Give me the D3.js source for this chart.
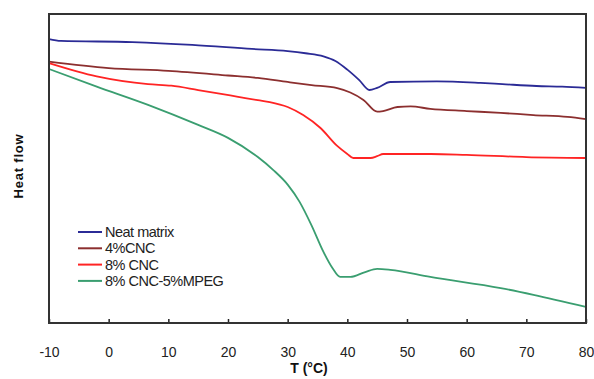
<!DOCTYPE html>
<html>
<head>
<meta charset="utf-8">
<script src="https://cdn.jsdelivr.net/npm/d3@7"></script>
<style>
  html, body { margin: 0; padding: 0; background: #fff; }
  svg { display: block; }
  text { font-family: "Liberation Sans", Arial, sans-serif; }
</style>
</head>
<body>
<svg id="chart" width="594" height="379"></svg>
<script>
// DSC heat-flow traces, temperature in °C, heat flow in arbitrary units
const neatT   = [-10, -8, 4, 14, 24, 30, 33, 36, 38, 40, 42, 43.7, 45, 47.2, 55, 62.3, 66, 71.7, 76, 80];
const neatHF  = [91.9, 91.3, 90.9, 90.0, 88.7, 88.0, 87.3, 86.3, 84.8, 82.0, 78.6, 75.4, 76.1, 78.0, 78.2, 77.7, 77.3, 76.7, 76.5, 76.1];

const cnc4T   = [-10, 0, 10, 20, 25, 30, 34, 38.3, 40.5, 42.7, 45, 46, 48.4, 50.6, 53.9, 60, 65.7, 71.2, 76.9, 80];
const cnc4HF  = [84.6, 82.5, 81.6, 80.1, 79.3, 78.0, 77.0, 76.0, 74.6, 72.2, 68.4, 68.6, 69.9, 70.1, 69.3, 68.6, 68.0, 67.3, 66.7, 66.0];

const cnc8T   = [-10, -2, 6.6, 10.5, 15, 21.7, 25, 27, 30, 32.6, 35.5, 38.3, 40, 41, 43.9, 45, 46, 54, 60, 70, 80];
const cnc8HF  = [84.1, 79.8, 77.3, 76.8, 75.4, 73.2, 72.1, 71.5, 69.9, 67.3, 63.1, 57.3, 54.7, 53.4, 53.4, 54.0, 54.7, 54.7, 54.4, 53.7, 53.4];

const mpegT   = [-10, -2, 6.6, 15, 20, 25, 27.6, 30, 32, 34, 36, 37.5, 38.8, 40.5, 43, 45, 47.2, 53.9, 65.7, 71.2, 80];
const mpegHF  = [82.2, 76.5, 70.6, 64.1, 59.9, 53.7, 49.5, 44.8, 39.2, 31.6, 23.0, 17.8, 14.9, 14.9, 16.5, 17.5, 17.2, 14.9, 11.3, 9.1, 5.2];

const seriesNames  = ["Neat matrix", "4%CNC", "8% CNC", "8% CNC-5%MPEG"];
const seriesColors = ["#2b2b96", "#8c2f2f", "#ff2424", "#3a9e70"];
const xTicks = [-10, 0, 10, 20, 30, 40, 50, 60, 70, 80];

const series = [
  { t: neatT, v: neatHF },
  { t: cnc4T, v: cnc4HF },
  { t: cnc8T, v: cnc8HF },
  { t: mpegT, v: mpegHF }
];

const svg = d3.select("#chart");
const plot = { left: 49, top: 14, right: 586, bottom: 323 };

const x = d3.scaleLinear().domain([-10, 80]).range([plot.left, plot.right]);
const y = d3.scaleLinear().domain([0, 100]).range([plot.bottom, plot.top]);

// curves
const line = d3.line()
  .x(d => x(d[0]))
  .y(d => y(d[1]))
  .curve(d3.curveMonotoneX);

series.forEach((s, i) => {
  const pts = s.t.map((t, k) => [t, s.v[k]]);
  svg.append("path")
    .attr("d", line(pts))
    .attr("fill", "none")
    .attr("stroke", seriesColors[i])
    .attr("stroke-width", 1.8)
    .attr("stroke-linejoin", "round");
});

// bottom axis with inward ticks, plain hyphen for negatives
const xAxis = d3.axisBottom(x).tickValues(xTicks).tickSize(-4).tickFormat(d => String(d));
const gx = svg.append("g")
  .attr("transform", `translate(0,${plot.bottom})`)
  .call(xAxis);
gx.select(".domain").remove();
gx.selectAll(".tick line").attr("stroke", "#222").attr("stroke-width", 1.5);
gx.selectAll(".tick text")
  .attr("fill", "#222")
  .style("font-size", "14px")
  .attr("dy", "0.35em")
  .attr("y", 29);

// frame
svg.append("rect")
  .attr("x", plot.left)
  .attr("y", plot.top)
  .attr("width", plot.right - plot.left)
  .attr("height", plot.bottom - plot.top)
  .attr("fill", "none")
  .attr("stroke", "#333")
  .attr("stroke-width", 2);

// axis titles
svg.append("text")
  .attr("x", 309)
  .attr("y", 368)
  .attr("text-anchor", "middle")
  .attr("dominant-baseline", "central")
  .style("font-size", "14px")
  .style("font-weight", "bold")
  .attr("fill", "#111")
  .text("T (°C)");

svg.append("text")
  .attr("transform", "translate(18,166) rotate(-90)")
  .attr("text-anchor", "middle")
  .attr("dominant-baseline", "central")
  .style("font-size", "13px")
  .style("font-weight", "bold")
  .style("letter-spacing", "0.8px")
  .attr("fill", "#111")
  .text("Heat flow");

// legend
const legend = svg.append("g").attr("transform", "translate(78,232)");
seriesNames.forEach((name, i) => {
  const row = legend.append("g").attr("transform", `translate(0,${i * 16.3})`);
  row.append("line")
    .attr("x1", 0).attr("x2", 24)
    .attr("y1", 0).attr("y2", 0)
    .attr("stroke", seriesColors[i])
    .attr("stroke-width", 2);
  row.append("text")
    .attr("x", 27)
    .attr("y", 0)
    .attr("dominant-baseline", "central")
    .style("font-size", "14.5px")
    .style("letter-spacing", "-0.5px")
    .attr("fill", "#222")
    .text(name);
});
</script>
</body>
</html>
